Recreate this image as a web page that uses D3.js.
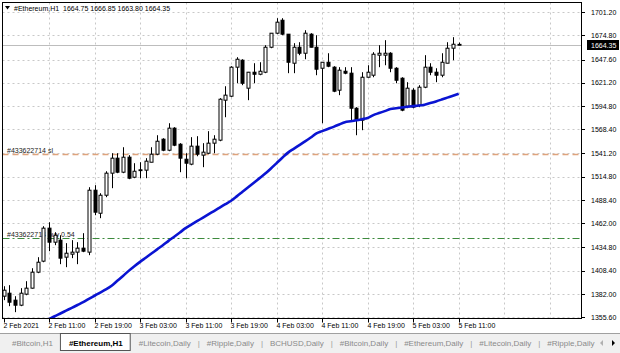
<!DOCTYPE html>
<html><head><meta charset="utf-8">
<script src="https://cdn.jsdelivr.net/npm/d3@7"></script>
<style>
body{margin:0;background:#fff;overflow:hidden;}
svg{display:block;}
text{font-family:"Liberation Sans",Arial,sans-serif;}
</style>
</head><body>
<svg id="c" width="620" height="353"></svg>
<script>
// ---------- DATA ----------
const symbolTitle = "#Ethereum,H1";
const barOpen  = [1379.4,1382.8,1374.9,1369.2,1381.7,1388.5,1406.6,1419.1,1456.5,1440.6,1442.9,1423.6,1427.0,1429.3,1433.8,1429.3,1499.5,1473.4,1493.8,1518.8,1535.8,1519.9,1536.9,1514.2,1522.6,1522.2,1531.2,1540.3,1557.3,1544.8,1569.8,1551.6,1534.6,1529.0,1549.4,1539.2,1541.4,1552.8,1556.2,1601.5,1606.0,1638.9,1646.8,1615.1,1633.2,1630.9,1633.2,1661.5,1677.4,1692.1,1676.3,1643.4,1661.5,1654.7,1676.3,1661.5,1637.7,1644.5,1638.9,1612.8,1634.3,1632.1,1592.4,1578.8,1627.5,1629.8,1652.5,1652.5,1654.7,1637.7,1626.4,1594.7,1612.8,1595.8,1616.2,1638.9,1633.2,1629.8,1643.4,1660.4,1664.75];
const barHigh  = [1390.7,1391.9,1379.4,1388.5,1396.4,1411.1,1423.6,1458.7,1463.2,1451.9,1448.5,1439.5,1442.9,1440.6,1450.8,1502.9,1505.2,1496.1,1521.0,1541.4,1541.4,1548.2,1539.2,1530.1,1531.2,1535.8,1548.2,1561.8,1558.4,1575.4,1570.9,1552.8,1541.4,1559.6,1560.7,1552.8,1566.4,1561.8,1603.8,1617.3,1640.0,1650.2,1647.9,1633.5,1643.4,1644.5,1663.8,1677.6,1694.4,1694.4,1676.5,1666.1,1667.2,1680.8,1677.4,1675.1,1644.7,1654.7,1640.0,1638.9,1638.9,1638.9,1593.6,1633.2,1641.1,1655.9,1663.8,1669.5,1655.9,1638.9,1627.5,1621.9,1615.1,1618.5,1652.5,1643.4,1637.7,1654.7,1667.2,1672.9,1666.85];
const barLow   = [1374.9,1368.1,1361.3,1368.1,1380.5,1388.0,1405.5,1417.9,1430.4,1437.2,1415.7,1412.3,1422.5,1415.7,1429.3,1425.9,1471.2,1467.8,1491.6,1501.8,1518.8,1518.8,1512.0,1513.1,1513.1,1513.1,1531.2,1539.2,1543.7,1543.7,1549.4,1519.9,1513.1,1527.8,1538.0,1525.6,1540.3,1541.4,1555.0,1582.2,1604.9,1620.7,1618.5,1601.5,1620.7,1629.8,1632.1,1660.4,1676.3,1675.1,1632.1,1632.1,1652.5,1647.9,1661.3,1629.8,1575.4,1638.9,1610.6,1607.2,1630.9,1578.8,1561.8,1567.5,1627.3,1627.5,1638.9,1641.1,1633.2,1620.7,1589.0,1592.4,1592.4,1593.6,1615.1,1629.8,1621.9,1627.5,1643.4,1646.8,1663.80];
const barClose = [1386.2,1372.6,1369.2,1382.8,1388.5,1406.6,1417.9,1456.5,1440.6,1448.5,1422.5,1428.1,1429.3,1433.8,1430.4,1499.5,1474.6,1493.8,1518.8,1535.8,1519.9,1536.9,1513.1,1521.0,1521.8,1532.4,1540.3,1555.0,1544.8,1569.8,1550.5,1535.8,1530.1,1549.4,1540.3,1542.6,1552.8,1557.3,1602.6,1607.2,1638.9,1647.9,1620.7,1633.2,1630.9,1634.3,1661.5,1677.4,1689.9,1676.3,1644.5,1661.5,1654.7,1677.4,1661.5,1636.6,1644.5,1640.0,1611.7,1635.5,1632.1,1592.4,1578.8,1627.5,1633.2,1653.6,1654.7,1654.7,1637.7,1624.1,1590.2,1615.1,1593.6,1616.2,1638.9,1633.2,1629.8,1644.5,1660.4,1664.9,1664.35];
// moving average (first bars are below the visible range)
const maValues = [null,null,null,null,null,null,1346.5,1349.9,1353.3,1356.7,1359.8,1363.0,1366.2,1369.4,1372.6,1376.3,1379.9,1383.5,1387.0,1391.2,1396.8,1402.4,1408.1,1413.4,1418.3,1423.0,1427.7,1432.5,1437.2,1442.1,1446.8,1451.6,1456.5,1460.5,1464.4,1468.2,1472.1,1475.9,1479.8,1483.7,1487.6,1492.5,1497.7,1502.9,1508.0,1513.2,1518.3,1524.1,1530.2,1536.3,1542.1,1546.4,1550.6,1554.8,1559.2,1563.8,1566.4,1568.9,1571.3,1573.9,1576.6,1577.6,1578.7,1580.0,1581.4,1584.6,1586.9,1589.1,1591.4,1592.4,1593.3,1594.1,1594.8,1595.4,1596.4,1598.2,1600.1,1602.2,1604.4,1606.6,1608.9];
const priceTicks = [1701.20,1674.80,1647.60,1621.20,1594.80,1568.40,1541.20,1514.80,1488.40,1462.00,1434.80,1408.40,1382.00,1355.60];
const timeLabels = ["2 Feb 2021","2 Feb 11:00","2 Feb 19:00","3 Feb 03:00","3 Feb 11:00","3 Feb 19:00","4 Feb 03:00","4 Feb 11:00","4 Feb 19:00","5 Feb 03:00","5 Feb 11:00"];
const timeLabelBars = [0,8,16,24,32,40,48,56,64,72,80];
const gridBars = [8,16,24,32,40,48,56,64,72,80,88,96];
const lastPrice = 1664.35;
const orderLevels = [1541.0, 1445.1];
const orderTexts = ["#433622714 sl", "#433622714 buy 0.54"];
const tabNames = ["#Bitcoin,H1","#Ethereum,H1","#Litecoin,Daily","#Ripple,Daily","BCHUSD,Daily","#Bitcoin,Daily","#Ethereum,Daily","#Litecoin,Daily","#Ripple,Daily"];
const activeTab = 1;

// ---------- LAYOUT ----------
const svg = d3.select("#c");
const L = 2.5, T = 2.5, R = 581.5, B = 318.5;
const x = d3.scaleLinear().domain([0, 80]).range([3.5, 458.7]);
const y = d3.scaleLinear().domain([1355.6, 1701.2]).range([317.2, 12.2]);
const fmt = d3.format(".2f");

svg.append("rect").attr("width",620).attr("height",353).attr("fill","#fff");

svg.append("defs").append("clipPath").attr("id","clip")
  .append("rect").attr("x",L).attr("y",T).attr("width",R-L).attr("height",B-T);
const plot = svg.append("g").attr("clip-path","url(#clip)");

// grid
plot.selectAll("line.hg").data(priceTicks).join("line")
  .attr("x1",L).attr("x2",R)
  .attr("y1",d=>Math.round(y(d))+0.5).attr("y2",d=>Math.round(y(d))+0.5)
  .attr("stroke","#c8c8c8").attr("stroke-dasharray","2,3").attr("stroke-width",1);
plot.selectAll("line.vg").data(gridBars).join("line")
  .attr("x1",d=>Math.round(x(d))+0.5).attr("x2",d=>Math.round(x(d))+0.5)
  .attr("y1",T).attr("y2",B)
  .attr("stroke","#c8c8c8").attr("stroke-dasharray","2,3").attr("stroke-width",1);

// order lines
const sl = Math.round(y(orderLevels[0]))+0.5;
plot.append("line").attr("x1",L).attr("x2",R).attr("y1",sl).attr("y2",sl)
  .attr("stroke","#dfa37c").attr("stroke-width",1.3).attr("stroke-dasharray","6,4");
const by = Math.round(y(orderLevels[1]))+0.5;
plot.append("line").attr("x1",L).attr("x2",R).attr("y1",by).attr("y2",by)
  .attr("stroke","#3d8a3d").attr("stroke-width",1.2).attr("stroke-dasharray","7,3,2,3");
plot.append("text").attr("x",7).attr("y",sl-2).attr("font-size",7).attr("fill","#222").text(orderTexts[0]);
plot.append("text").attr("x",7).attr("y",by-2).attr("font-size",7).attr("fill","#222").text(orderTexts[1]);

// last price line
const lp = Math.round(y(lastPrice))+0.5;
plot.append("line").attr("x1",L).attr("x2",R).attr("y1",lp).attr("y2",lp)
  .attr("stroke","#bdbdbd").attr("stroke-width",1);

// candles
const idx = d3.range(barOpen.length);
const cg = plot.append("g");
cg.selectAll("line.w").data(idx).join("line")
  .attr("x1",i=>Math.round(x(i))+0.5).attr("x2",i=>Math.round(x(i))+0.5)
  .attr("y1",i=>y(barHigh[i])).attr("y2",i=>y(barLow[i]))
  .attr("stroke","#000").attr("stroke-width",1);
cg.selectAll("rect.b").data(idx).join("rect")
  .attr("x",i=>Math.round(x(i))-1)
  .attr("width",3)
  .attr("y",i=>y(Math.max(barOpen[i],barClose[i])))
  .attr("height",i=>Math.max(0.8, Math.abs(y(barOpen[i])-y(barClose[i]))))
  .attr("fill",i=>barClose[i]>=barOpen[i]?"#fff":"#000")
  .attr("stroke","#000").attr("stroke-width",1);

// moving average
plot.append("path")
  .attr("d", d3.line().defined(v=>v!==null).x((v,i)=>x(i)).y(v=>y(v)).curve(d3.curveMonotoneX)(maValues))
  .attr("fill","none").attr("stroke","#0a14d2").attr("stroke-width",2.6);

// frame
svg.append("rect").attr("x",L).attr("y",T).attr("width",R-L).attr("height",B-T)
  .attr("fill","none").attr("stroke","#000").attr("stroke-width",1);

// right axis
const ra = svg.append("g");
ra.selectAll("line").data(priceTicks).join("line")
  .attr("x1",R).attr("x2",R+3.5)
  .attr("y1",d=>Math.round(y(d))+0.5).attr("y2",d=>Math.round(y(d))+0.5)
  .attr("stroke","#000");
ra.selectAll("text").data(priceTicks).join("text")
  .attr("x",591).attr("y",d=>y(d)+2.6).attr("font-size",7).attr("fill","#000")
  .text(d=>fmt(d));
ra.append("rect").attr("x",587).attr("y",lp-5.5).attr("width",32).attr("height",10).attr("fill","#000");
ra.append("text").attr("x",591).attr("y",lp+2.6).attr("font-size",7).attr("fill","#fff").text(fmt(lastPrice));

// bottom axis
const ba = svg.append("g");
ba.selectAll("line").data(timeLabelBars).join("line")
  .attr("x1",i=>Math.round(x(i))+0.5).attr("x2",i=>Math.round(x(i))+0.5)
  .attr("y1",B).attr("y2",B+4).attr("stroke","#000");
ba.selectAll("text").data(timeLabelBars).join("text")
  .attr("x",i=>Math.round(x(i))-0.5).attr("y",327.5).attr("font-size",7).attr("fill","#000")
  .text((i,k)=>timeLabels[k]);

// title
svg.append("path").attr("d","M5,6 L10,6 L7.5,9.5 Z").attr("fill","#000");
svg.append("text").attr("x",14).attr("y",10.5).attr("font-size",7).attr("fill","#000")
  .attr("xml:space","preserve")
  .text(symbolTitle+"  "+[barOpen[80],barHigh[80],barLow[80],barClose[80]].map(fmt).join(" "));

// tab strip
const tg = svg.append("g");
tg.append("rect").attr("x",0).attr("y",333).attr("width",620).attr("height",20).attr("fill","#f0f0f0");
tg.append("line").attr("x1",0).attr("x2",620).attr("y1",333.5).attr("y2",333.5).attr("stroke","#a0a0a0");
let cx = 12;
tabNames.forEach((name,k)=>{
  const t = tg.append("text").attr("x",cx).attr("y",345.5).attr("font-size",8)
    .attr("fill", k===activeTab ? "#000" : "#8a8a8a")
    .attr("font-weight", k===activeTab ? "bold" : "normal")
    .text(name);
  const w = t.node().getComputedTextLength();
  if (k===activeTab) {
    tg.insert("rect", "text").attr("x",cx-8.5).attr("y",333.5).attr("width",w+16).attr("height",17)
      .attr("fill","#fff").attr("stroke","#555");
  }
  if (k>=2 && k<tabNames.length-1) {
    tg.append("text").attr("x",cx+w+7).attr("y",345.5).attr("font-size",8).attr("fill","#9a9a9a").text("|");
  }
  cx += w + 16;
});
tg.append("rect").attr("x",596).attr("y",334).attr("width",24).attr("height",19).attr("fill","#f0f0f0");
tg.append("path").attr("d","M603,340 L603,346 L600,343 Z").attr("fill","#b0b0b0");
tg.append("path").attr("d","M612,340 L612,346 L615,343 Z").attr("fill","#000");
</script>
</body></html>
